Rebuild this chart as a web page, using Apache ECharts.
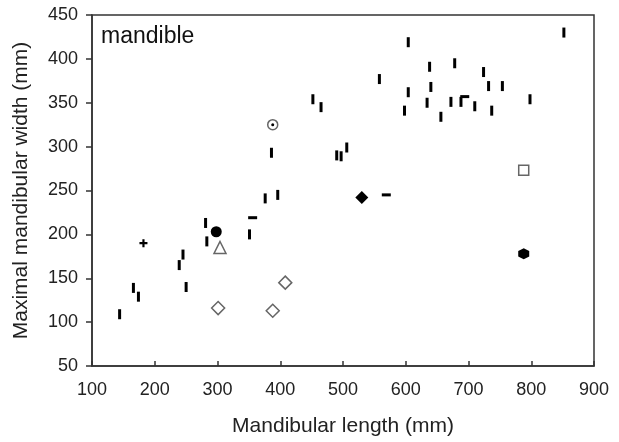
<!DOCTYPE html>
<html>
<head>
    <meta charset="utf-8">
    <script src="https://cdn.jsdelivr.net/npm/echarts@6/dist/echarts.min.js"></script>
    <style>
        html, body { margin: 0; padding: 0; background: #fff; }
        #chart { width: 619px; height: 442px; }
    </style>
</head>
<body>
<div id="chart"></div>
<script>
    // x ticks / y ticks
    var xTicks = [100, 200, 300, 400, 500, 600, 700, 800, 900];
    var yTicks = [50, 100, 150, 200, 250, 300, 350, 400, 450];

    // small vertical bars (most specimens)
    var barX = [144, 166, 174, 239, 245, 250, 281, 283, 351, 376, 396, 386, 452, 465, 490, 497, 506, 558,
                604, 852, 638, 678, 724, 604, 640, 732, 754, 798, 598, 634, 672, 688, 710, 737, 656];
    var barY = [109, 139, 129, 165, 177, 140, 213, 192, 200, 241, 245, 293, 354, 345, 290, 289, 299, 377,
                419, 430, 391, 395, 385, 362, 368, 369, 369, 354, 341, 350, 351, 351, 346, 341, 334];

    // horizontal bars
    var hbarX = [356, 569, 694];
    var hbarY = [219, 245, 357];

    var plusX = [182];
    var plusY = [190];

    var dotX = [298, 788];  // filled circle, filled hexagon
    var dotY = [203, 178];

    var triX = [304];
    var triY = [185];

    var openDiaX = [301, 388, 408];
    var openDiaY = [116, 113, 145];

    var fillDiaX = [530];
    var fillDiaY = [242];

    var squareX = [788];
    var squareY = [273];

    var ringX = [388];
    var ringY = [325];

    function pairs(xs, ys) {
        return xs.map(function (x, i) { return [x, ys[i]]; });
    }

    var font = 'Liberation Sans, Arial, sans-serif';
    var axisCol = '#333';
    var solid = { color: '#000', opacity: 1 };
    var openStyle = { color: '#fff', borderColor: '#666', borderWidth: 1.5, opacity: 1 };

    var chart = echarts.init(document.getElementById('chart'));

    chart.setOption({
        animation: false,
        backgroundColor: '#fff',
        title: {
            text: 'mandible',
            left: 96,
            top: 20,
            textStyle: { fontFamily: font, fontSize: 23, fontWeight: 'normal', color: '#111' }
        },
        grid: {
            left: 92, right: 25, top: 15, bottom: 76,
            show: true, borderColor: axisCol, borderWidth: 1.5, backgroundColor: '#fff'
        },
        xAxis: {
            type: 'value',
            min: xTicks[0], max: xTicks[xTicks.length - 1], interval: 100,
            name: 'Mandibular length (mm)',
            nameLocation: 'middle',
            nameGap: 50,
            nameTextStyle: { fontFamily: font, fontSize: 21, color: '#222' },
            axisLine: { show: true, lineStyle: { color: axisCol, width: 1.5 } },
            axisTick: { show: true, inside: true, length: 5, lineStyle: { color: axisCol, width: 1.5 } },
            axisLabel: { fontFamily: font, fontSize: 18, color: '#222', margin: 15 },
            splitLine: { show: false }
        },
        yAxis: {
            type: 'value',
            min: yTicks[0], max: yTicks[yTicks.length - 1], interval: 50,
            name: 'Maximal mandibular width (mm)',
            nameLocation: 'middle',
            nameGap: 60,
            nameTextStyle: { fontFamily: font, fontSize: 21, color: '#222' },
            axisLine: { show: true, lineStyle: { color: axisCol, width: 1.5 } },
            axisTick: { show: true, length: 6, lineStyle: { color: axisCol, width: 1.5 } },
            axisLabel: { fontFamily: font, fontSize: 18, color: '#222', margin: 14 },
            splitLine: { show: false }
        },
        series: [
            {
                type: 'scatter', data: pairs(barX, barY),
                symbol: 'rect', symbolSize: [3, 10],
                itemStyle: solid
            },
            {
                type: 'scatter', data: pairs(hbarX, hbarY),
                symbol: 'rect', symbolSize: [9, 3],
                itemStyle: solid
            },
            {
                type: 'scatter', data: pairs(plusX, plusY),
                symbol: 'path://M2.7,0h2v7.4h-2z M0,2.7h7.4v2h-7.4z', symbolSize: [8, 8],
                itemStyle: solid
            },
            {
                type: 'scatter', data: [pairs(dotX, dotY)[0]],
                symbol: 'circle', symbolSize: 11,
                itemStyle: solid
            },
            {
                type: 'scatter', data: [pairs(dotX, dotY)[1]],
                symbol: 'path://M5,0L9.33,2.5L9.33,7.5L5,10L0.67,7.5L0.67,2.5Z', symbolSize: 11,
                itemStyle: solid
            },
            {
                type: 'scatter', data: pairs(triX, triY),
                symbol: 'triangle', symbolSize: 12,
                itemStyle: openStyle
            },
            {
                type: 'scatter', data: pairs(openDiaX, openDiaY),
                symbol: 'diamond', symbolSize: 13,
                itemStyle: openStyle
            },
            {
                type: 'scatter', data: pairs(fillDiaX, fillDiaY),
                symbol: 'diamond', symbolSize: 13,
                itemStyle: solid
            },
            {
                type: 'scatter', data: pairs(squareX, squareY),
                symbol: 'rect', symbolSize: 10,
                itemStyle: openStyle
            },
            {
                type: 'scatter', data: pairs(ringX, ringY),
                symbol: 'circle', symbolSize: 10,
                itemStyle: openStyle
            },
            {
                type: 'scatter', data: pairs(ringX, ringY),
                symbol: 'circle', symbolSize: 3, z: 3,
                itemStyle: solid
            }
        ]
    });
</script>
</body>
</html>
